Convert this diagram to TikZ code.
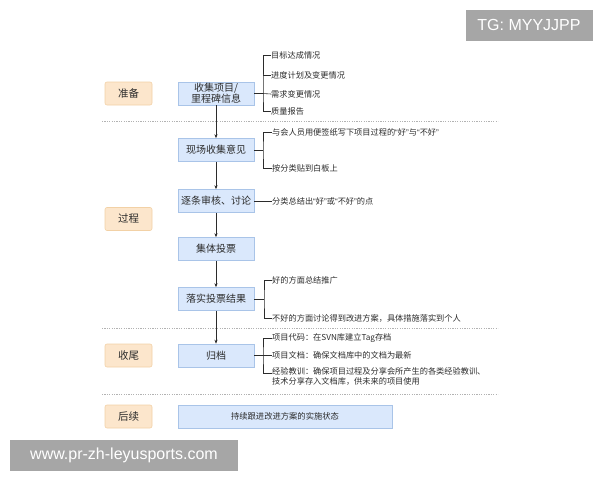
\documentclass[tikz,border=0pt]{standalone}
\usepackage{fontspec}
\setmainfont{Noto Sans CJK SC}
\newfontfamily\wmfont{Liberation Sans}
\usetikzlibrary{arrows.meta}
\definecolor{txt}{HTML}{2B2B2B}
\definecolor{bfill}{HTML}{DAE8FC}
\definecolor{bdraw}{HTML}{A9C4E8}
\definecolor{ofill}{HTML}{FCE6CC}
\definecolor{odraw}{HTML}{F2D1A6}
\definecolor{wm}{HTML}{A6A6A6}
\newcommand\myLq{{\wmfont “}}
\newcommand\myRq{{\wmfont ”}}
\tikzset{
  stagebox/.style={draw=odraw,fill=ofill,rounded corners=2pt,line width=0.6pt,minimum width=47pt,minimum height=23pt,inner sep=0pt,font=\fontsize{10.5}{12}\selectfont,text=txt},
  mainbox/.style={draw=bdraw,fill=bfill,line width=0.6pt,minimum width=76pt,minimum height=23pt,inner sep=0pt,font=\fontsize{10}{11.5}\selectfont,text=txt,align=center},
  item/.style={anchor=west,inner sep=0pt,font=\fontsize{8.2}{10}\selectfont,text=txt,align=left},
  conn/.style={draw=txt,line width=0.6pt},
  flow/.style={draw=txt,line width=0.6pt,-{Stealth[length=4pt,width=3.2pt]}},
  sep/.style={draw=gray!60,line width=0.6pt,dash pattern=on 1.2pt off 1.2pt},
  wmark/.style={fill=wm,text=white,inner sep=0pt,font=\fontsize{16}{18}\selectfont\wmfont},
}
\begin{document}
\begin{tikzpicture}[x=1pt,y=-1pt]
\useasboundingbox (0,0) rectangle (600,480);
% separators
\coordinate (s1a) at (102,121); \coordinate (s1b) at (498,121);
\coordinate (s2a) at (102,328); \coordinate (s2b) at (498,328);
\coordinate (s3a) at (102,394); \coordinate (s3b) at (498,394);
\draw[sep] (s1a) -- (s1b);
\draw[sep] (s2a) -- (s2b);
\draw[sep] (s3a) -- (s3b);
% stages
\node[stagebox] (st1) at (128.5,93.5) {准备};
\node[stagebox] (st2) at (128.5,219) {过程};
\node[stagebox] (st3) at (128.5,355.5) {收尾};
\node[stagebox] (st4) at (128.5,416.5) {后续};
% main boxes
\node[mainbox,font=\fontsize{10}{11}\selectfont] (m1) at (216,93.5) {收集项目/\\里程碑信息};
\node[mainbox] (m2) at (216,150) {现场收集意见};
\node[mainbox] (m3) at (216,201) {逐条审核、讨论};
\node[mainbox] (m4) at (216,249) {集体投票};
\node[mainbox] (m5) at (216,299) {落实投票结果};
\node[mainbox] (m6) at (216,355.5) {归档};
\node[mainbox,minimum width=214pt,font=\fontsize{8.3}{10}\selectfont] (m7) at (285,416.5) {持续跟进改进方案的实施状态};
% flow arrows
\draw[flow] (m1) -- (m2);
\draw[flow] (m2) -- (m3);
\draw[flow] (m3) -- (m4);
\draw[flow] (m4) -- (m5);
\draw[flow] (m5) -- (m6);
% items for m1
\node[item] (a1) at (271,55) {目标达成情况};
\node[item] (a2) at (271,75) {进度计划及变更情况};
\node[item] (a3) at (271,94) {需求变更情况};
\node[item] (a4) at (271,111) {质量报告};
\coordinate (b1) at (263,93.5);
\draw[conn] (m1.east) -- (b1);
\draw[conn] (a1.west) -| (b1) |- (a4.west);
\draw[conn] (b1 |- a2.west) -- (a2.west);
\draw[conn] (b1) -- (a3.west);
% items for m2
\node[item] (c1) at (272,132) {与会人员用便签纸写下项目过程的\myLq 好\myRq 与\myLq 不好\myRq};
\node[item] (c2) at (272,168) {按分类贴到白板上};
\coordinate (b2) at (263,150);
\draw[conn] (m2.east) -- (b2);
\draw[conn] (c1.west) -| (b2) |- (c2.west);
% item for m3
\node[item] (d1) at (272,201) {分类总结出\myLq 好\myRq 或\myLq 不好\myRq 的点};
\draw[conn] (m3.east) -- (d1.west);
% items for m5
\node[item] (e1) at (272,280) {好的方面总结推广};
\node[item] (e2) at (272,318) {不好的方面讨论得到改进方案，具体措施落实到个人};
\coordinate (b5) at (264,299);
\draw[conn] (m5.east) -- (b5);
\draw[conn] (e1.west) -| (b5) |- (e2.west);
% items for m6
\node[item] (f1) at (272,338) {项目代码：在SVN库建立Tag存档};
\node[item] (f2) at (272,355.5) {项目文档：确保文档库中的文档为最新};
\node[item,anchor=north west] (f3) at (272,367) {经验教训：确保项目过程及分享会所产生的各类经验教训、\\技术分享存入文档库，供未来的项目使用};
\coordinate (b6) at (263,355.5);
\coordinate (f3w) at (272,373);
\draw[conn] (m6.east) -- (f2.west);
\draw[conn] (f1.west) -| (b6) |- (f3w);
% watermarks
\node[wmark,minimum width=127pt,minimum height=31pt] (w1) at (529,25) {TG: MYYJJPP};
\node[wmark,minimum width=228pt,minimum height=31pt] (w2) at (124,455) {www.pr-zh-leyusports.com};
\end{tikzpicture}
\end{document}
